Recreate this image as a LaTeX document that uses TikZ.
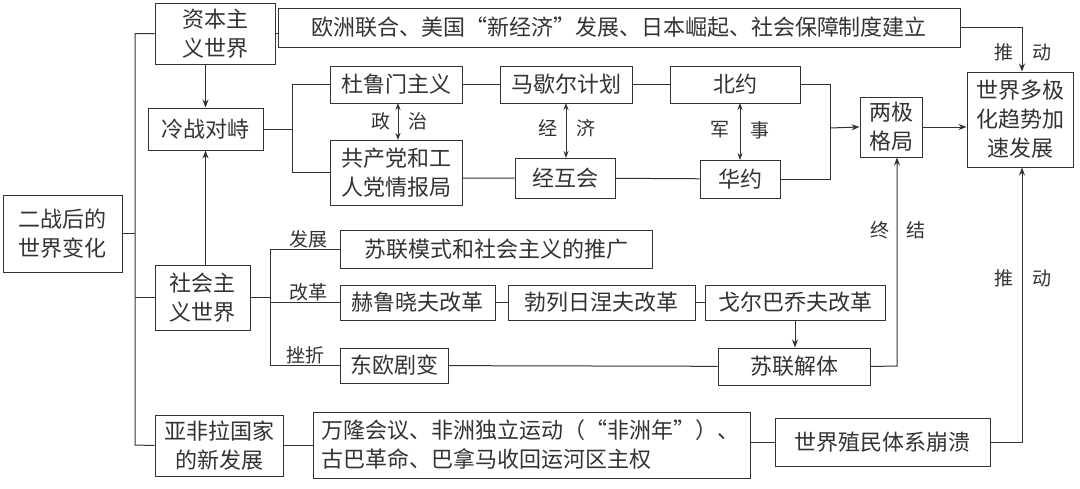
\documentclass[tikz,border=0pt]{standalone}
\usepackage{fontspec}
\setmainfont{Noto Sans CJK SC}
\usetikzlibrary{arrows.meta}
\tikzset{
 bx/.style={draw=black!80, line width=1pt, inner sep=1pt, align=center, text=black!80, font=\fontsize{22}{29}\selectfont},
 ln/.style={draw=black!80, line width=1pt},
 ar/.style={ln, -{Stealth[length=8pt,width=6pt]}},
 lb/.style={text=black!80, font=\fontsize{19}{22}\selectfont, inner sep=1pt}
}
\newcommand{\bxat}[7]{\node[bx, minimum width=#4-#2, minimum height=#5-#3, #7] (#1) at ({(#2+#4)/2},{(#3+#5)/2}) {#6};}
\begin{document}
\begin{tikzpicture}[x=1pt,y=-1pt]
\useasboundingbox[fill=white] (0,0) rectangle (1080,488);
\bxat{m}{3}{195}{122}{272}{二战后的\\世界变化}{}
\bxat{zb}{155}{3}{275}{64}{资本主\\义世界}{}
\bxat{oz}{278}{8}{960}{47}{欧洲联合、美国“新经济”发展、日本崛起、社会保障制度建立}{}
\bxat{lz}{148}{108}{263}{150}{冷战对峙}{}
\bxat{dl}{330}{66}{462}{103}{杜鲁门主义}{}
\bxat{mx}{500}{66}{632}{103}{马歇尔计划}{}
\bxat{by}{670}{66}{800}{103}{北约}{}
\bxat{gc}{330}{140}{462}{205}{共产党和工\\人党情报局}{}
\bxat{jh}{515}{158}{615}{198}{经互会}{}
\bxat{hy}{700}{160}{780}{198}{华约}{}
\bxat{lj}{860}{97}{922}{157}{两极\\格局}{}
\bxat{dj}{967}{72}{1073}{167}{世界多极\\化趋势加\\速发展}{}
\bxat{sh}{155}{265}{250}{330}{社会主\\义世界}{}
\bxat{sl}{340}{230}{652}{268}{苏联模式和社会主义的推广}{}
\bxat{hl}{340}{285}{495}{320}{赫鲁晓夫改革}{}
\bxat{bl}{508}{285}{695}{320}{勃列日涅夫改革}{}
\bxat{ge}{705}{285}{885}{320}{戈尔巴乔夫改革}{}
\bxat{do}{340}{348}{448}{383}{东欧剧变}{}
\bxat{sj}{718}{348}{870}{385}{苏联解体}{}
\bxat{yf}{155}{415}{283}{476}{亚非拉国家\\的新发展}{}
\bxat{wl}{313}{412}{750}{478}{万隆会议、非洲独立运动（“非洲年”）、\\古巴革命、巴拿马收回运河区主权}{align=left, text width=420pt}
\bxat{zm}{775}{418}{990}{466}{世界殖民体系崩溃}{}
% trunk
\coordinate (t0) at (135,33);
\coordinate (t1) at (135,445);
\draw[ln] (m.east) -- (m.east -| t0);
\draw[ln] (zb.west) -- (zb.west -| t0) -- (t1) -- (yf.west);
\draw[ln] (sh.west) -- (sh.west -| t0);
\draw[ln] (zb.east) -- (zb.east -| oz.west);
\draw[ar] (zb.south -| lz.north) -- (lz.north);
\draw[ar] (sh.north -| lz.south) -- (lz.south);
% cold war
\coordinate (c0) at (292,85);
\draw[ln] (lz.east) -- (lz.east -| c0);
\draw[ln] (dl.west) -- (dl.west -| c0) -- (c0 |- gc.west) -- (gc.west);
\draw[ln] (dl) -- (mx) (mx) -- (by);
\draw[ln] (gc.east |- jh.west) -- (jh.west) (jh) -- (hy);
\coordinate (c1) at (830,128);
\draw[ln] (by.east) -- (by.east -| c1) -- (c1 |- hy.east) -- (hy.east);
\draw[ar] (c1) -- (lj.west);
\draw[ar] (lj.east) -- (lj.east -| dj.west);
\draw[{Stealth[length=7pt,width=5pt]}-{Stealth[length=7pt,width=5pt]}, ln] (398,103) -- (398,140);
\node[lb] at (381,121) {政}; \node[lb] at (418,121) {治};
\draw[{Stealth[length=7pt,width=5pt]}-{Stealth[length=7pt,width=5pt]}, ln] (566,103) -- (566,158);
\node[lb] at (548,128) {经}; \node[lb] at (586,128) {济};
\draw[{Stealth[length=7pt,width=5pt]}-{Stealth[length=7pt,width=5pt]}, ln] (740,103) -- (740,160);
\node[lb] at (720,130) {军}; \node[lb] at (760,130) {事};
% push
\coordinate (p0) at (1022,27);
\draw[ar] (oz.east |- p0) -- (p0) -- (p0 |- dj.north);
\node[lb] at (1004,52) {推}; \node[lb] at (1042,52) {动};
\coordinate (p1) at (1022,442);
\draw[ar] (zm.east |- p1) -- (p1) -- (p1 |- dj.south);
\node[lb] at (1004,278) {推}; \node[lb] at (1042,278) {动};
% socialist
\coordinate (s0) at (270,249);
\draw[ln] (sh.east) -- (sh.east -| s0);
\draw[ln] (sl.west) -- (sl.west -| s0) -- (s0 |- do.west) -- (do.west);
\draw[ln] (hl.west) -- (hl.west -| s0);
\node[lb, anchor=south west] at (288,249) {发展};
\node[lb, anchor=south west] at (288,302) {改革};
\node[lb, anchor=south west] at (285,365) {挫折};
\draw[ln] (hl) -- (bl) (bl) -- (ge);
\draw[ar] (ge.south -| 795,0) -- (sj.north -| 795,0);
\draw[ln] (do) -- (sj);
\coordinate (e0) at (897,366);
\draw[ar] (sj.east) -- (e0) -- (e0 |- lj.south);
\node[lb] at (880,230) {终}; \node[lb] at (916,230) {结};
% afro-asian
\draw[ln] (yf.east) -- (yf.east -| wl.west);
\draw[ln] (wl.east |- zm.west) -- (zm.west);
\end{tikzpicture}
\end{document}
